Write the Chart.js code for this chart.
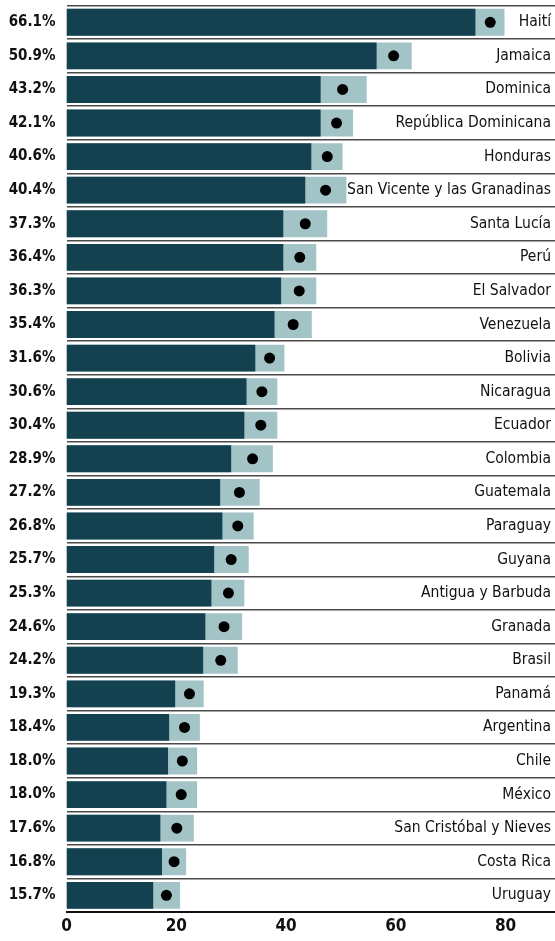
<!DOCTYPE html>
<html>
<head>
<meta charset="utf-8">
<script src="https://cdn.jsdelivr.net/npm/chart.js@4/dist/chart.umd.min.js"></script>
<style>
  html, body { margin: 0; padding: 0; background: #ffffff; overflow: hidden; }
  canvas { display: block; }
</style>
</head>
<body>
<canvas id="c" width="555" height="941" style="width:555px;height:941px"></canvas>
<script>
const countries = ["Haití", "Jamaica", "Dominica", "República Dominicana", "Honduras",
  "San Vicente y las Granadinas", "Santa Lucía", "Perú", "El Salvador", "Venezuela",
  "Bolivia", "Nicaragua", "Ecuador", "Colombia", "Guatemala", "Paraguay", "Guyana",
  "Antigua y Barbuda", "Granada", "Brasil", "Panamá", "Argentina", "Chile", "México",
  "San Cristóbal y Nieves", "Costa Rica", "Uruguay"];

const shareLabels = ["66.1%", "50.9%", "43.2%", "42.1%", "40.6%", "40.4%", "37.3%", "36.4%",
  "36.3%", "35.4%", "31.6%", "30.6%", "30.4%", "28.9%", "27.2%", "26.8%", "25.7%", "25.3%",
  "24.6%", "24.2%", "19.3%", "18.4%", "18.0%", "18.0%", "17.6%", "16.8%", "15.7%"];

const lowValues = [74.5, 56.5, 46.3, 46.3, 44.6, 43.5, 39.5, 39.5, 39.1, 37.9,
  34.4, 32.8, 32.4, 30.0, 28.0, 28.4, 26.9, 26.4, 25.3, 24.9,
  19.8, 18.7, 18.5, 18.2, 17.1, 17.4, 15.8];

const highValues = [79.8, 62.9, 54.7, 52.2, 50.3, 51.0, 47.5, 45.5, 45.5, 44.7,
  39.7, 38.4, 38.4, 37.6, 35.2, 34.1, 33.2, 32.4, 32.0, 31.2,
  25.0, 24.3, 23.8, 23.8, 23.2, 21.8, 20.7];

const pointValues = [77.2, 59.6, 50.3, 49.2, 47.5, 47.2, 43.5, 42.5, 42.4, 41.3,
  37.0, 35.6, 35.4, 33.9, 31.5, 31.2, 30.0, 29.5, 28.7, 28.1,
  22.4, 21.5, 21.1, 20.9, 20.1, 19.6, 18.2];

const xTicks = [0, 20, 40, 60, 80];

const DARK = '#14414f';
const LIGHT = '#a3c4c6';
const FONT = '"Liberation Sans Narrow", "DejaVu Sans Condensed", "Roboto", sans-serif';

function noPad(scale) {
  scale.paddingTop = 0;
  scale.paddingBottom = 0;
  scale.paddingLeft = 0;
  scale.paddingRight = 0;
}

new Chart(document.getElementById('c'), {
  type: 'bar',
  data: {
    labels: countries,
    datasets: [
      {
        type: 'line',
        label: 'punto',
        data: pointValues,
        indexAxis: 'y',
        showLine: false,
        pointRadius: 5.5,
        pointHoverRadius: 5.5,
        pointBackgroundColor: '#000000',
        pointBorderWidth: 0,
        borderColor: '#000000',
        order: 0
      },
      {
        label: 'bajo',
        data: lowValues,
        backgroundColor: DARK,
        barPercentage: 0.8,
        categoryPercentage: 1.0,
        order: 1
      },
      {
        label: 'alto',
        data: highValues,
        backgroundColor: LIGHT,
        barPercentage: 0.8,
        categoryPercentage: 1.0,
        order: 2
      }
    ]
  },
  options: {
    indexAxis: 'y',
    responsive: false,
    animation: false,
    layout: { autoPadding: false, padding: { top: 5.5, right: 0, bottom: -0.5, left: 0 } },
    plugins: {
      legend: { display: false },
      tooltip: { enabled: false }
    },
    scales: {
      x: {
        type: 'linear',
        min: 0,
        max: 89,
        afterBuildTicks: (scale) => {
          scale.ticks = xTicks.map(v => ({ value: v }));
        },
        afterFit: noPad,
        grid: { display: false, drawTicks: false },
        border: { display: true, color: '#111111', width: 2 },
        ticks: {
          color: '#111111',
          padding: 4.5,
          font: { family: FONT, size: 17, weight: 'bold' }
        }
      },
      y: {
        type: 'category',
        stacked: true,
        offset: true,
        afterFit: (scale) => { scale.width = 66.5; noPad(scale); },
        grid: {
          offset: true,
          drawTicks: false,
          color: '#4a4a4a',
          lineWidth: 1.6
        },
        border: { display: false },
        ticks: {
          color: '#111111',
          padding: 11,
          font: { family: FONT, size: 15, weight: 'bold' },
          callback: (v, i) => shareLabels[i]
        }
      },
      y2: {
        type: 'category',
        position: 'right',
        labels: countries,
        offset: true,
        afterFit: (scale) => { scale.width = 0; noPad(scale); },
        grid: { display: false, drawTicks: false },
        border: { display: false },
        ticks: {
          mirror: true,
          padding: -4,
          color: '#111111',
          font: { family: FONT, size: 15.5 }
        }
      }
    }
  }
});
</script>
</body>
</html>
